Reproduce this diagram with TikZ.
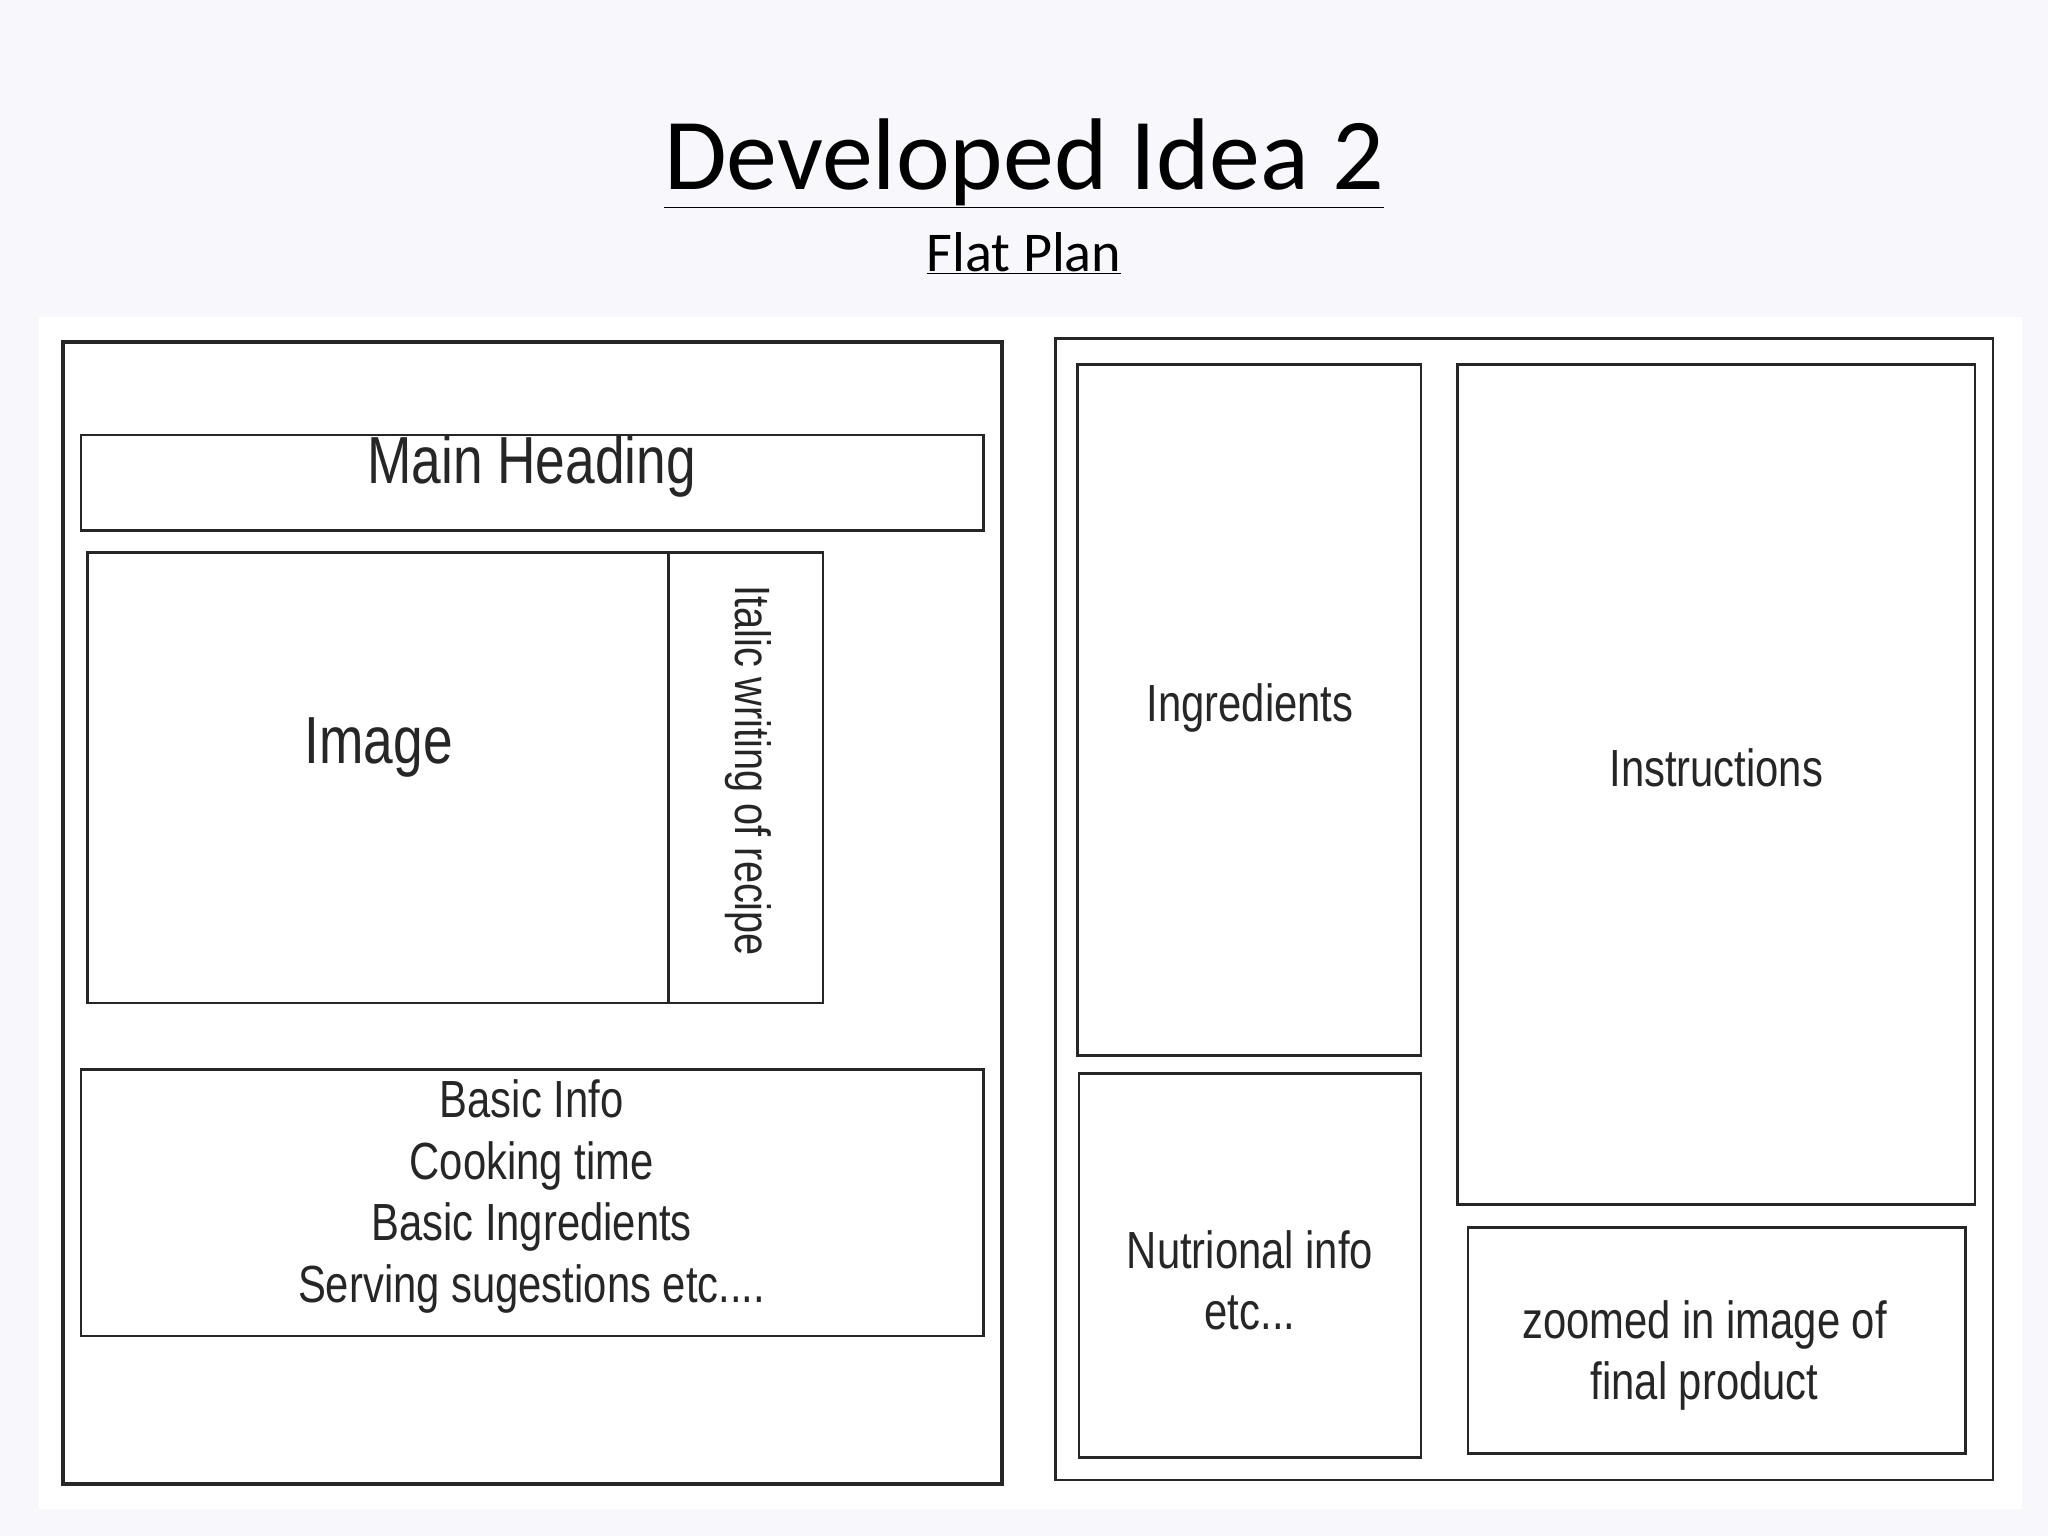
\documentclass[tikz,border=0pt]{standalone}
\usepackage{fontspec}
\setmainfont{Carlito}
\newfontfamily\cond[FakeStretch=0.8]{Liberation Sans}
\begin{document}
\begin{tikzpicture}[x=1pt,y=-1pt,
  bx/.style={draw=black!85,line width=2pt},
  lbl/.style={text=black!85,align=center,inner sep=0pt},
  big/.style={font=\cond\fontsize{51}{53}\selectfont},
  med/.style={font=\cond\fontsize{40}{47}\selectfont}]
\useasboundingbox (0,0) rectangle (1568,1176);
\fill[fill={rgb,255:red,248;green,248;blue,252}] (0,0) rectangle (1568,1176);
\fill[white] (30,243) rectangle (1548,1155);
\node (title) at (784,125) {\fontsize{78}{80}\selectfont\underline{Developed Idea 2}};
\node (sub) at (784,194) {\fontsize{43}{45}\selectfont\underline{Flat Plan}};
% left page
\draw[bx,line width=3pt] (48,262) rectangle (767,1136);
\draw[bx] (62,333) rectangle (753,406);
\node[lbl,big] (mh) at (407,357) {Main Heading};
\draw[bx] (67,423) rectangle (512,768);
\node[lbl,big] (img) at (290,572) {Image};
\draw[bx] (512,423) rectangle (630,768);
\node[lbl,med,rotate=-90] (it) at (573,590) {\fontsize{38}{40}\selectfont Italic writing of recipe};
\draw[bx] (62,819) rectangle (753,1023);
\node[lbl,med] (bi) at (407,916) {Basic Info\\Cooking time\\Basic Ingredients\\Serving sugestions etc....};
% right page
\draw[bx] (808,259) rectangle (1526,1133);
\draw[bx] (825,279) rectangle (1088,808);
\node[lbl,med] (ing) at (957,542) {Ingredients};
\draw[bx] (1116,279) rectangle (1512,922);
\node[lbl,med] (ins) at (1314,588) {Instructions};
\draw[bx] (826,822) rectangle (1088,1116);
\node[lbl,med] (nut) at (957,980) {Nutrional info\\etc...};
\draw[bx] (1124,940) rectangle (1505,1113);
\node[lbl,med] (zm) at (1305,1038) {zoomed in image of\\final product};
\end{tikzpicture}
\end{document}
